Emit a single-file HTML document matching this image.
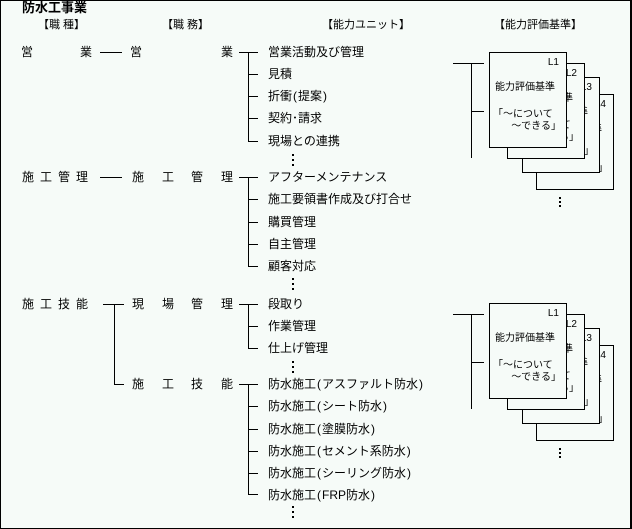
<!DOCTYPE html>
<html><head><meta charset="utf-8">
<style>
html,body{margin:0;padding:0;}
body{width:632px;height:529px;overflow:hidden;background:#f6fbf8;position:relative;
font-family:"Liberation Sans","Noto Sans CJK JP",sans-serif;color:#000;}
#frame{position:absolute;left:0;top:0;width:629px;height:527px;border-left:1px solid #000;border-top:1px solid #000;border-right:2px solid #000;border-bottom:1px solid #000;}
.t{position:absolute;font-size:12px;line-height:14px;white-space:nowrap;}
.h{position:absolute;font-size:11px;line-height:14px;white-space:nowrap;}
.l{position:absolute;background:#000;}
.d{position:absolute;width:2px;height:2px;background:#000;}
.p{margin:0 1px;}
.card{position:absolute;width:76px;height:94px;border:1px solid #000;background:#f6fbf8;}
.card .n{position:absolute;right:7px;top:4px;font-size:10px;line-height:12px;}
.card .a{position:absolute;left:5px;top:29px;font-size:10px;line-height:12px;white-space:nowrap;}
.card .b{position:absolute;left:3px;top:56px;font-size:10px;line-height:12px;white-space:nowrap;}
.card .c{position:absolute;right:5px;top:68px;font-size:10px;line-height:12px;white-space:nowrap;}
</style></head><body>
<div id="frame"></div>

<div class="t" style="left:22px;top:1px;font-size:13px;font-weight:bold;">防水工事業</div>
<div class="h" style="left:38px;top:18px;">【職 種】</div>
<div class="h" style="left:162px;top:18px;">【職 務】</div>
<div class="h" style="left:322px;top:18px;">【能力ユニット】</div>
<div class="h" style="left:494px;top:18px;">【能力評価基準】</div>

<!-- Row 1 -->
<div class="t" style="left:21px;top:45px;">営</div>
<div class="t" style="left:80px;top:45px;">業</div>
<div class="l" style="left:100px;top:52px;width:22px;height:1px;"></div>
<div class="t" style="left:130px;top:45px;">営</div>
<div class="t" style="left:221px;top:45px;">業</div>
<div class="l" style="left:239px;top:52px;width:19px;height:1px;"></div>
<div class="l" style="left:248px;top:52px;width:1px;height:90px;"></div>
<div class="l" style="left:248px;top:74px;width:10px;height:1px;"></div>
<div class="l" style="left:248px;top:96px;width:10px;height:1px;"></div>
<div class="l" style="left:248px;top:118px;width:10px;height:1px;"></div>
<div class="l" style="left:248px;top:141px;width:10px;height:1px;"></div>
<div class="t" style="left:268px;top:45px;">営業活動及び管理</div>
<div class="t" style="left:268px;top:67px;">見積</div>
<div class="t" style="left:268px;top:89px;">折衝<span class="p">(</span>提案<span class="p">)</span></div>
<div class="t" style="left:268px;top:111px;">契約･請求</div>
<div class="t" style="left:268px;top:134px;">現場との連携</div>
<div class="d" style="left:292px;top:154px;"></div>
<div class="d" style="left:292px;top:159px;"></div>
<div class="d" style="left:292px;top:164px;"></div>

<!-- Row 2 -->
<div class="t" style="left:22px;top:170px;">施</div>
<div class="t" style="left:40px;top:170px;">工</div>
<div class="t" style="left:58px;top:170px;">管</div>
<div class="t" style="left:76px;top:170px;">理</div>
<div class="l" style="left:100px;top:177px;width:22px;height:1px;"></div>
<div class="t" style="left:132px;top:170px;">施</div>
<div class="t" style="left:162px;top:170px;">工</div>
<div class="t" style="left:191px;top:170px;">管</div>
<div class="t" style="left:221px;top:170px;">理</div>
<div class="l" style="left:239px;top:177px;width:19px;height:1px;"></div>
<div class="l" style="left:248px;top:177px;width:1px;height:90px;"></div>
<div class="l" style="left:248px;top:199px;width:10px;height:1px;"></div>
<div class="l" style="left:248px;top:222px;width:10px;height:1px;"></div>
<div class="l" style="left:248px;top:244px;width:10px;height:1px;"></div>
<div class="l" style="left:248px;top:266px;width:10px;height:1px;"></div>
<div class="t" style="left:268px;top:170px;">アフターメンテナンス</div>
<div class="t" style="left:268px;top:192px;">施工要領書作成及び打合せ</div>
<div class="t" style="left:268px;top:215px;">購買管理</div>
<div class="t" style="left:268px;top:237px;">自主管理</div>
<div class="t" style="left:268px;top:259px;">顧客対応</div>
<div class="d" style="left:292px;top:278px;"></div>
<div class="d" style="left:292px;top:283px;"></div>
<div class="d" style="left:292px;top:288px;"></div>

<!-- Row 3 -->
<div class="t" style="left:22px;top:297px;">施</div>
<div class="t" style="left:40px;top:297px;">工</div>
<div class="t" style="left:58px;top:297px;">技</div>
<div class="t" style="left:76px;top:297px;">能</div>
<div class="l" style="left:103px;top:304px;width:21px;height:1px;"></div>
<div class="l" style="left:114px;top:304px;width:1px;height:81px;"></div>
<div class="l" style="left:114px;top:384px;width:10px;height:1px;"></div>
<div class="t" style="left:132px;top:297px;">現</div>
<div class="t" style="left:162px;top:297px;">場</div>
<div class="t" style="left:191px;top:297px;">管</div>
<div class="t" style="left:221px;top:297px;">理</div>
<div class="l" style="left:239px;top:304px;width:19px;height:1px;"></div>
<div class="l" style="left:248px;top:304px;width:1px;height:45px;"></div>
<div class="l" style="left:248px;top:326px;width:10px;height:1px;"></div>
<div class="l" style="left:248px;top:348px;width:10px;height:1px;"></div>
<div class="t" style="left:268px;top:297px;">段取り</div>
<div class="t" style="left:268px;top:319px;">作業管理</div>
<div class="t" style="left:268px;top:341px;">仕上げ管理</div>
<div class="d" style="left:292px;top:361px;"></div>
<div class="d" style="left:292px;top:366px;"></div>
<div class="d" style="left:292px;top:371px;"></div>

<!-- Row 4 -->
<div class="t" style="left:132px;top:377px;">施</div>
<div class="t" style="left:162px;top:377px;">工</div>
<div class="t" style="left:191px;top:377px;">技</div>
<div class="t" style="left:221px;top:377px;">能</div>
<div class="l" style="left:239px;top:384px;width:19px;height:1px;"></div>
<div class="l" style="left:248px;top:384px;width:1px;height:111px;"></div>
<div class="l" style="left:248px;top:406px;width:10px;height:1px;"></div>
<div class="l" style="left:248px;top:429px;width:10px;height:1px;"></div>
<div class="l" style="left:248px;top:451px;width:10px;height:1px;"></div>
<div class="l" style="left:248px;top:473px;width:10px;height:1px;"></div>
<div class="l" style="left:248px;top:494px;width:10px;height:1px;"></div>
<div class="t" style="left:268px;top:377px;">防水施工<span class="p">(</span>アスファルト防水<span class="p">)</span></div>
<div class="t" style="left:268px;top:399px;">防水施工<span class="p">(</span>シート防水<span class="p">)</span></div>
<div class="t" style="left:268px;top:422px;">防水施工<span class="p">(</span>塗膜防水<span class="p">)</span></div>
<div class="t" style="left:268px;top:444px;">防水施工<span class="p">(</span>セメント系防水<span class="p">)</span></div>
<div class="t" style="left:268px;top:466px;">防水施工<span class="p">(</span>シーリング防水<span class="p">)</span></div>
<div class="t" style="left:268px;top:488px;">防水施工<span class="p">(</span>FRP防水<span class="p">)</span></div>
<div class="d" style="left:292px;top:506px;"></div>
<div class="d" style="left:292px;top:511px;"></div>
<div class="d" style="left:292px;top:516px;"></div>

<!-- Card stack 1 -->
<div class="l" style="left:453px;top:63px;width:31px;height:1px;"></div>
<div class="l" style="left:471px;top:63px;width:1px;height:95px;"></div>
<div class="l" style="left:471px;top:111px;width:13px;height:1px;"></div>
<div class="card" style="left:536px;top:94px;"><div class="n">L4</div><div class="a">能力評価基準</div><div class="b">「～について</div><div class="c">～できる」</div></div>
<div class="card" style="left:522px;top:77px;"><div class="n">L3</div><div class="a">能力評価基準</div><div class="b">「～について</div><div class="c">～できる」</div></div>
<div class="card" style="left:507px;top:63px;"><div class="n">L2</div><div class="a">能力評価基準</div><div class="b">「～について</div><div class="c">～できる」</div></div>
<div class="card" style="left:489px;top:52px;"><div class="n">L1</div><div class="a">能力評価基準</div><div class="b">「～について</div><div class="c">～できる」</div></div>
<div class="d" style="left:559px;top:197px;"></div>
<div class="d" style="left:559px;top:201px;"></div>
<div class="d" style="left:559px;top:205px;"></div>

<!-- Card stack 2 -->
<div class="l" style="left:453px;top:314px;width:31px;height:1px;"></div>
<div class="l" style="left:471px;top:314px;width:1px;height:95px;"></div>
<div class="l" style="left:471px;top:362px;width:13px;height:1px;"></div>
<div class="card" style="left:536px;top:345px;"><div class="n">L4</div><div class="a">能力評価基準</div><div class="b">「～について</div><div class="c">～できる」</div></div>
<div class="card" style="left:522px;top:328px;"><div class="n">L3</div><div class="a">能力評価基準</div><div class="b">「～について</div><div class="c">～できる」</div></div>
<div class="card" style="left:507px;top:314px;"><div class="n">L2</div><div class="a">能力評価基準</div><div class="b">「～について</div><div class="c">～できる」</div></div>
<div class="card" style="left:489px;top:303px;"><div class="n">L1</div><div class="a">能力評価基準</div><div class="b">「～について</div><div class="c">～できる」</div></div>
<div class="d" style="left:559px;top:448px;"></div>
<div class="d" style="left:559px;top:452px;"></div>
<div class="d" style="left:559px;top:456px;"></div>
</body></html>
